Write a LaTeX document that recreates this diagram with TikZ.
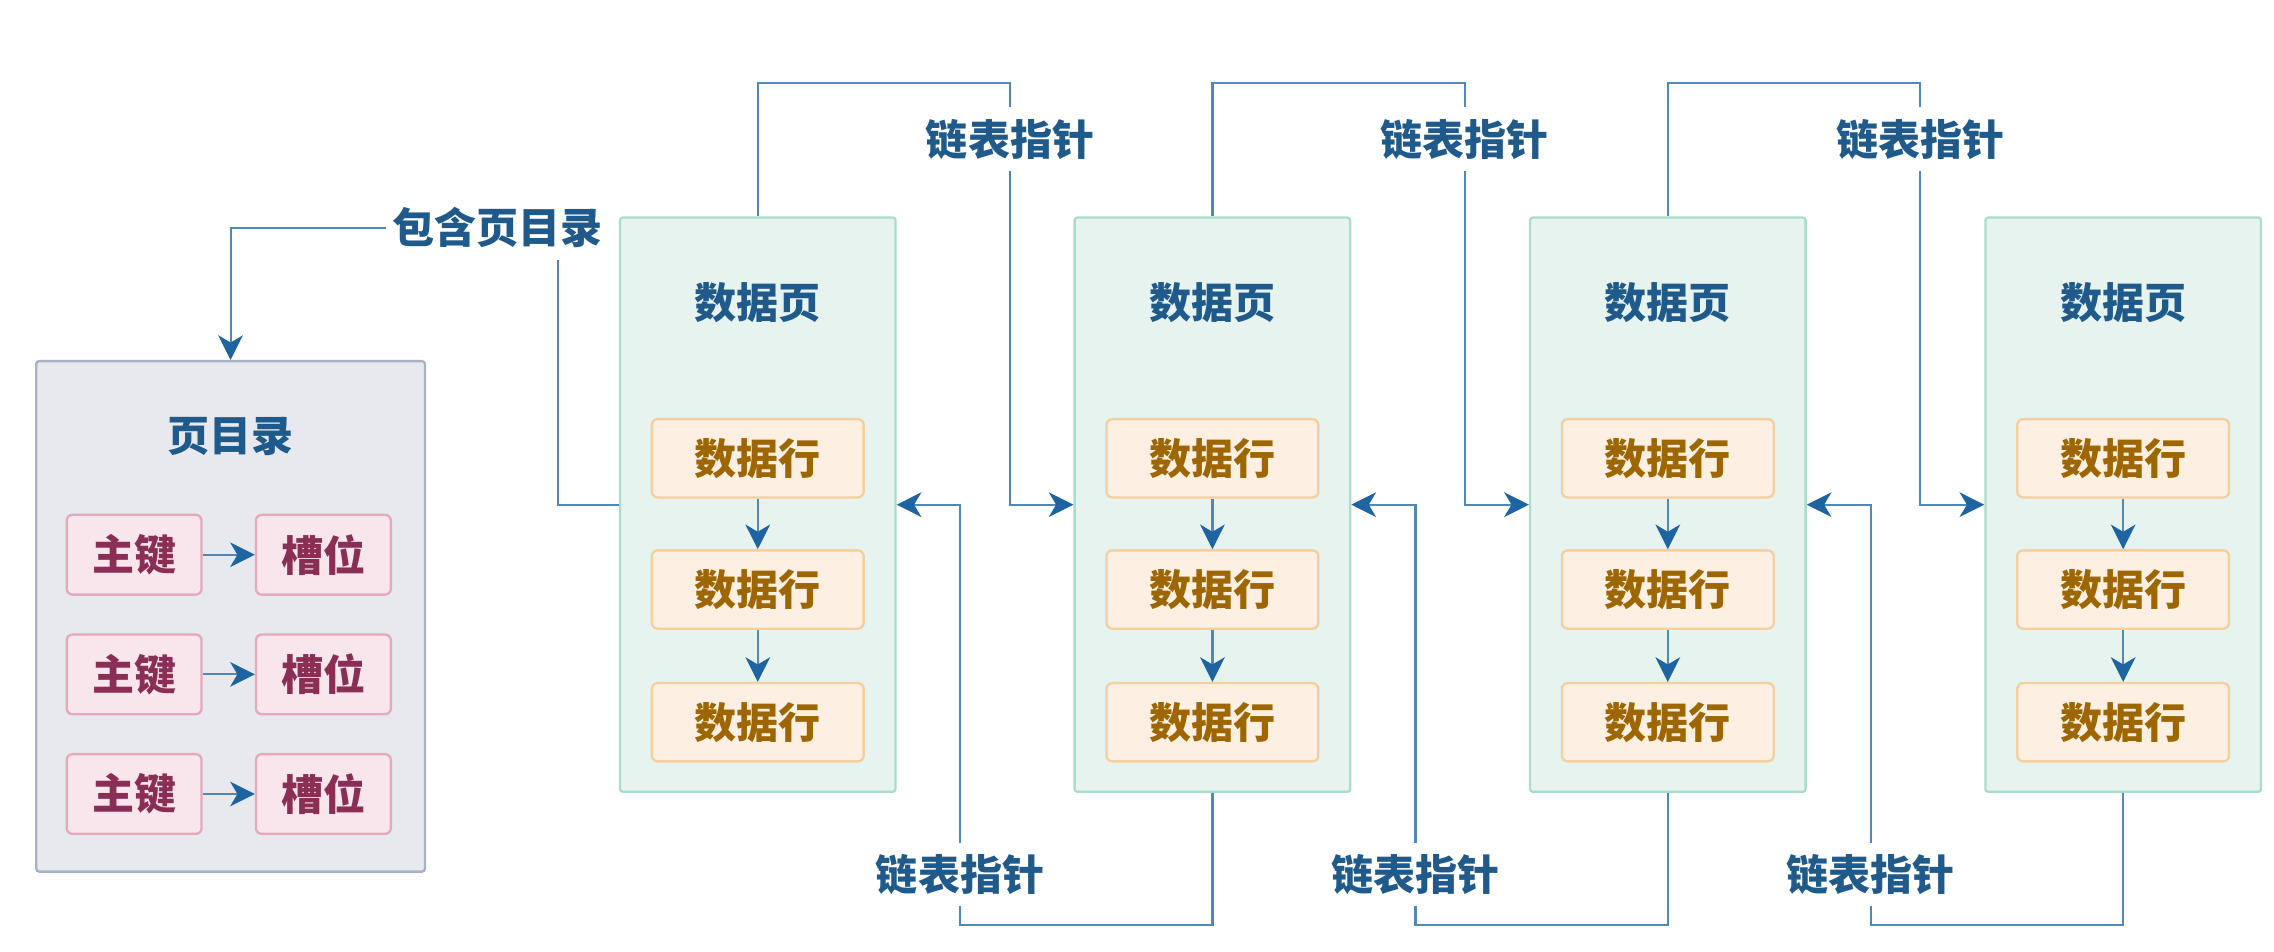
\documentclass[tikz,border=0pt]{standalone}
\usepackage{fontspec}
\setmainfont{Noto Sans CJK SC}
\usetikzlibrary{arrows.meta}
\definecolor{lnblue}{HTML}{5088B8}
\definecolor{tipblue}{HTML}{1E64A0}
\definecolor{txtblue}{HTML}{1F5A8A}
\definecolor{pgfill}{HTML}{E6F3EF}
\definecolor{pgdraw}{HTML}{A8DCCB}
\definecolor{rowfill}{HTML}{FDF0E2}
\definecolor{rowdraw}{HTML}{F5CF9E}
\definecolor{rowtxt}{HTML}{9E6600}
\definecolor{dirfill}{HTML}{E8E9EE}
\definecolor{dirdraw}{HTML}{A9B2C5}
\definecolor{keyfill}{HTML}{F8E6EC}
\definecolor{keydraw}{HTML}{E6A8BB}
\definecolor{keytxt}{HTML}{8B2E55}
\begin{document}
\begin{tikzpicture}[x=0.5pt,y=-0.5pt,
  every node/.style={font=\fontsize{14.5}{17}\selectfont\bfseries, inner sep=0pt},
  pagebox/.style={draw=pgdraw, fill=pgfill, line width=0.8pt, minimum width=95pt, minimum height=198pt, rounded corners=1pt},
  dirbox/.style={draw=dirdraw, fill=dirfill, line width=0.8pt, minimum width=134pt, minimum height=176pt, rounded corners=1pt},
  rowbox/.style={draw=rowdraw, fill=rowfill, text=rowtxt, line width=0.8pt, minimum width=73pt, minimum height=27pt, rounded corners=2pt},
  keybox/.style={draw=keydraw, fill=keyfill, text=keytxt, line width=0.8pt, minimum width=46.5pt, minimum height=27.5pt, rounded corners=2pt},
  titletext/.style={text=txtblue},
  lbl/.style={text=txtblue, fill=white, inner xsep=2pt, inner ysep=4pt},
  ptr/.style={draw=lnblue, line width=0.75pt, -{Stealth[length=8.5pt, width=8.5pt, inset=2.5pt, color=tipblue]}}
]
\useasboundingbox (0,0) rectangle (1568,656);

% page directory
\node[dirbox] (dir) at (159,425) {};
\node[titletext] (dirtitle) at (159,301) {页目录};
\foreach \k/\y in {1/382.5,2/465,3/547.5} {
  \node[keybox] (k\k) at (92.5,\y) {主键};
  \node[keybox] (s\k) at (223,\y) {槽位};
  \draw[ptr] (k\k) -- (s\k);
}

% data pages
\foreach \i/\x in {1/522.5,2/836,3/1150,4/1464} {
  \node[pagebox] (p\i) at (\x,348) {};
  \node[titletext] (t\i) at (\x,209) {数据页};
  \node[rowbox] (r\i1) at (\x,316) {数据行};
  \node[rowbox] (r\i2) at (\x,406.5) {数据行};
  \node[rowbox] (r\i3) at (\x,498) {数据行};
  \draw[ptr] (r\i1) -- (r\i2);
  \draw[ptr] (r\i2) -- (r\i3);
}

% forward pointers (top)
\foreach \i/\j/\x in {1/2/696.5,2/3/1010,3/4/1324} {
  \draw[ptr] (p\i.north) -- ++(0,-92) -- ++(174,0) |- (p\j.west);
  \node[lbl] (ft\i) at (\x,96) {链表指针};
}

% backward pointers (bottom)
\foreach \i/\j/\x in {1/2/662,2/3/976,3/4/1290} {
  \draw[ptr] (p\j.south) -- ++(0,91) -- ++(-174,0) |- (p\i.east);
  \node[lbl] (bk\i) at (\x,603) {链表指针};
}

% page 1 contains the directory
\coordinate (c1) at (385,157);
\draw[ptr] (p1.west) -| (c1) -| (dir.north);
\node[lbl] (contains) at (343,157) {包含页目录};
\end{tikzpicture}
\end{document}
